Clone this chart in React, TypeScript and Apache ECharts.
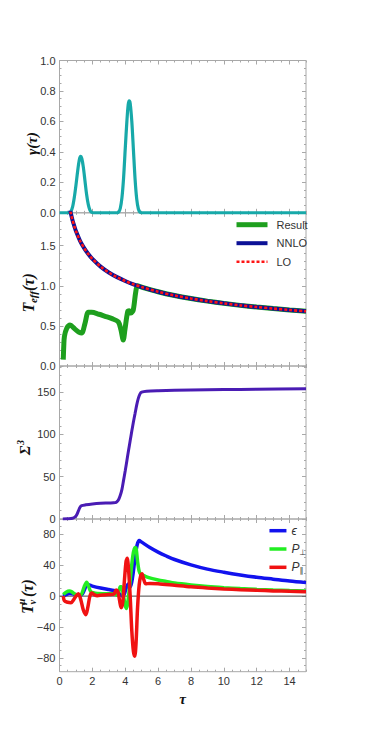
import React, { useEffect, useRef } from 'react';
import * as echarts from 'echarts';

// ---------- tick labels ----------
const tauTicks = [0, 2, 4, 6, 8, 10, 12, 14];
const gammaTicks = [0, 0.2, 0.4, 0.6, 0.8, 1.0];
const teffTicks = [0, 0.5, 1.0, 1.5];
const sigmaTicks = [0, 50, 100, 150];
const tmunuTicks = [-80, -40, 0, 40, 80];

// ---------- data (tau, value) ----------
const gamma: [number, number][] = [
  [0, 0], [0.6, 0], [0.7, 0.01], [0.8, 0.04], [0.9, 0.1], [1.0, 0.18], [1.1, 0.27], [1.2, 0.345],
  [1.28, 0.37], [1.36, 0.355], [1.45, 0.3], [1.55, 0.21], [1.65, 0.12], [1.75, 0.055], [1.85, 0.018],
  [1.95, 0.003], [2.05, 0], [3.5, 0], [3.6, 0.005], [3.7, 0.03], [3.8, 0.1], [3.9, 0.23], [4.0, 0.42],
  [4.1, 0.6], [4.18, 0.71], [4.24, 0.735], [4.3, 0.72], [4.4, 0.6], [4.5, 0.41], [4.6, 0.22], [4.7, 0.09],
  [4.8, 0.025], [4.9, 0.004], [5.0, 0], [15, 0],
];

const teffResult: [number, number][] = [
  [0.23, 0.08], [0.26, 0.25], [0.3, 0.37], [0.44, 0.47], [0.64, 0.51], [0.94, 0.46], [1.2, 0.42],
  [1.35, 0.41], [1.55, 0.53], [1.75, 0.67], [1.96, 0.67], [2.4, 0.645], [2.77, 0.62], [3.2, 0.59],
  [3.58, 0.55], [3.74, 0.45], [3.88, 0.325], [3.98, 0.45], [4.15, 0.68], [4.25, 0.69], [4.35, 0.66],
  [4.49, 0.7], [4.63, 0.91], [4.75, 1.0], [5, 0.984], [6, 0.926], [7, 0.879], [8, 0.841], [9, 0.809],
  [10, 0.781], [11, 0.756], [12, 0.735], [13, 0.716], [14, 0.698], [15, 0.682],
];

const teffNNLO: [number, number][] = [
  [0.6, 1.99], [0.7, 1.895], [0.8, 1.812], [0.9, 1.745], [1.0, 1.682], [1.25, 1.561], [1.5, 1.47],
  [1.75, 1.397], [2, 1.335], [2.5, 1.239], [3, 1.166], [3.5, 1.108], [4, 1.06], [4.5, 1.019],
  [5, 0.984], [6, 0.926], [7, 0.879], [8, 0.841], [9, 0.809], [10, 0.781], [11, 0.756], [12, 0.735],
  [13, 0.716], [14, 0.698], [15, 0.682],
];

const teffLO: [number, number][] = [
  [0.6, 1.99], [0.7, 1.895], [0.8, 1.812], [0.9, 1.745], [1.0, 1.682], [1.25, 1.561], [1.5, 1.47],
  [1.75, 1.397], [2, 1.335], [2.5, 1.239], [3, 1.166], [3.5, 1.108], [4, 1.06], [4.5, 1.019],
  [5, 0.984], [6, 0.926], [7, 0.879], [8, 0.841], [9, 0.809], [10, 0.781], [11, 0.756], [12, 0.735],
  [13, 0.716], [14, 0.698], [15, 0.682],
];

const sigma3: [number, number][] = [
  [0.2, 0], [0.5, 0.2], [0.8, 0.8], [0.95, 2.5], [1.05, 5], [1.15, 9.5], [1.25, 14], [1.35, 15.8],
  [1.6, 16.8], [2.0, 17.8], [2.5, 18.6], [3.0, 19], [3.4, 19.4], [3.5, 20.5], [3.6, 23], [3.7, 28],
  [3.8, 35], [3.9, 46], [4.0, 57], [4.1, 69], [4.2, 81], [4.3, 92.5], [4.4, 104], [4.5, 115], [4.6, 125],
  [4.7, 135], [4.8, 143], [4.9, 148], [5.0, 150], [5.3, 151.2], [6, 151.8], [8, 152.6], [10, 153.1],
  [12, 153.5], [15, 154],
];

const zeroLine: [number, number][] = [[0, 0], [15, 0]];

const epsilon: [number, number][] = [
  [0.23, 0], [0.4, 2], [0.6, 3.5], [0.8, 3], [1.0, 1.5], [1.2, 1], [1.4, 3], [1.55, 10], [1.68, 15.5],
  [1.8, 14.5], [2.0, 13], [2.5, 10.5], [3.0, 8.5], [3.4, 7], [3.55, 5], [3.7, 2], [3.85, 0], [3.95, 3],
  [4.05, 10], [4.15, 15], [4.22, 16], [4.32, 12], [4.45, 25], [4.6, 50], [4.72, 66], [4.85, 72],
  [5.0, 70], [5.5, 63], [6, 57], [6.5, 52], [7, 47.5], [8, 40.5], [9, 35], [10, 31], [11, 27.5],
  [12, 24.5], [13, 22], [14, 19.5], [15, 17.5],
];

const pPerp: [number, number][] = [
  [0.23, 2], [0.4, 5], [0.6, 6.5], [0.75, 5.5], [0.9, 3], [1.05, 1.5], [1.2, 1], [1.35, 3], [1.5, 12],
  [1.65, 18], [1.78, 12], [1.9, 6], [2.05, 4.5], [2.3, 3.5], [3.0, 3], [3.4, 3], [3.5, 1], [3.6, 5],
  [3.7, 12], [3.78, 12], [3.88, 2], [4.0, -12], [4.08, -16], [4.16, -8], [4.3, 20], [4.45, 50],
  [4.58, 63], [4.66, 62], [4.75, 45], [4.85, 32], [4.95, 28], [5.1, 27], [5.3, 25], [5.6, 23], [6, 21],
  [6.5, 19], [7, 17], [8, 14.5], [9, 12.5], [10, 11], [11, 9.8], [12, 8.8], [13, 8], [14, 7.3], [15, 6.7],
];

const pPar: [number, number][] = [
  [0.23, 0], [0.3, -6], [0.5, -8], [0.7, -8.5], [0.85, -5], [1.0, 0], [1.15, 3], [1.3, -5], [1.45, -18],
  [1.6, -24], [1.72, -15], [1.85, 0], [1.97, 4], [2.1, 2], [2.3, 0.5], [2.6, 1.5], [3.0, 2], [3.3, 2.5],
  [3.45, 8], [3.55, 6], [3.65, -5], [3.75, -15], [3.85, -8], [3.95, 20], [4.05, 45], [4.12, 49],
  [4.2, 35], [4.3, 0], [4.4, -45], [4.5, -72], [4.58, -78], [4.66, -60], [4.75, -15], [4.85, 15],
  [4.95, 27], [5.02, 29], [5.12, 22], [5.25, 16], [5.5, 16.5], [6, 16], [7, 14], [8, 12], [9, 10.5],
  [10, 9.3], [11, 8.3], [12, 7.5], [13, 6.8], [14, 6.2], [15, 5.7],
];

// ---------- layout / styling ----------
const FRAME = '#a8a8a8';
const LABEL = '#333';
const GRID_LEFT = 59.5;
const GRID_WIDTH = 246.5;

const minus = (v: number) => String(v).replace('-', '\u2212');

const panels = [
  { top: 60.5, height: 152.3, min: 0, max: 1, majors: gammaTicks, step: 0.05, fmt: (v: number) => v.toFixed(1) },
  { top: 212.8, height: 153.2, min: 0, max: 1.91, majors: teffTicks, step: 0.1, fmt: (v: number) => v.toFixed(1) },
  { top: 366, height: 153, min: 0, max: 181, majors: sigmaTicks, step: 10, fmt: (v: number) => String(v) },
  { top: 519, height: 152.7, min: -98, max: 100, majors: tmunuTicks, step: 10, fmt: minus },
];

function minorsOf(min: number, max: number, step: number, majors: number[]) {
  const out: number[] = [];
  for (let k = Math.ceil(min / step - 1e-9); k * step <= max + 1e-9; k++) {
    const v = Math.round(k * step * 1e6) / 1e6;
    if (!majors.some((m) => Math.abs(m - v) < 1e-6)) out.push(v);
  }
  return out;
}

function buildOption() {
  const xAxis: any[] = [];
  const yAxis: any[] = [];
  const grid: any[] = [];
  const tauMinors = minorsOf(0, 15, 0.5, tauTicks);

  panels.forEach((p, g) => {
    grid.push({
      left: GRID_LEFT, width: GRID_WIDTH, top: p.top, height: p.height,
      show: true, borderColor: FRAME, borderWidth: 1, backgroundColor: 'transparent',
    });
    const yMinors = minorsOf(p.min, p.max, p.step, p.majors);
    const mk = (dim: 'x' | 'y', pos: string, values: number[], len: number, labels: boolean) => ({
      type: 'value', gridIndex: g, position: pos,
      min: dim === 'x' ? 0 : p.min, max: dim === 'x' ? 15 : p.max,
      axisLine: { show: false, onZero: false },
      splitLine: { show: false },
      axisTick: { show: true, inside: true, length: len, lineStyle: { color: FRAME, width: 1 }, customValues: values },
      axisLabel: {
        show: labels, customValues: values, margin: 4, fontSize: 11, color: LABEL,
        fontFamily: 'Liberation Sans, Arial, sans-serif',
        formatter: dim === 'x' ? (v: number) => String(v) : p.fmt,
      },
    });
    xAxis.push(mk('x', 'bottom', tauTicks, 4, g === 3));
    xAxis.push(mk('x', 'bottom', tauMinors, 2, false));
    xAxis.push(mk('x', 'top', tauTicks, 4, false));
    xAxis.push(mk('x', 'top', tauMinors, 2, false));
    yAxis.push(mk('y', 'left', p.majors, 4, true));
    yAxis.push(mk('y', 'left', yMinors, 2, false));
    yAxis.push(mk('y', 'right', p.majors, 4, false));
    yAxis.push(mk('y', 'right', yMinors, 2, false));
  });

  const line = (g: number, name: string, data: [number, number][], color: string, width: number, dash?: number[]) => ({
    type: 'line', name, data, xAxisIndex: 4 * g, yAxisIndex: 4 * g,
    symbol: 'none', smooth: 0.3, color,
    lineStyle: dash ? { color, width, type: dash } : { color, width },
    emphasis: { disabled: true },
  });

  const series = [
    line(0, 'γ', gamma, '#17a9a9', 3.2),
    line(1, 'Result', teffResult, '#1e9f1e', 5),
    line(1, 'NNLO', teffNNLO, '#0c1196', 4),
    line(1, 'LO', teffLO, '#ff1414', 2.6, [3, 2]),
    line(2, 'Σ3', sigma3, '#4a1cb4', 3),
    { ...line(3, 'zero', zeroLine, '#444', 1), smooth: false },
    line(3, 'ϵ', epsilon, '#1212ee', 3.5),
    line(3, 'P⊥', pPerp, '#22ee22', 3.5),
    line(3, 'P∥', pPar, '#f01212', 3.5),
  ];

  const titleFont = (s: number) => `italic bold ${s}px "Liberation Serif", "DejaVu Serif", serif`;
  const rotTitle = (cx: number, cy: number, total: number, pieces: { t: string; x: number; y: number; s: number }[]) => ({
    type: 'group', x: cx, y: cy, rotation: Math.PI / 2, silent: true,
    children: pieces.map((pc) => ({
      type: 'text', x: pc.x - total / 2, y: pc.y,
      style: { text: pc.t, font: titleFont(pc.s), fill: '#111', textAlign: 'left', textVerticalAlign: 'middle' },
    })),
  });

  const graphic = [
    rotTitle(31.5, 144, 22, [{ t: 'γ(τ)', x: 0, y: 0, s: 15 }]),
    rotTitle(28.5, 293, 39, [
      { t: 'T', x: 0, y: 0, s: 16 },
      { t: 'eff', x: 9.4, y: 4, s: 11 },
      { t: '(τ)', x: 21.5, y: 0, s: 16 },
    ]),
    rotTitle(25, 447, 16, [
      { t: 'Σ', x: 0, y: 0, s: 15 },
      { t: '3', x: 10, y: -5, s: 10 },
    ]),
    rotTitle(27, 597, 34, [
      { t: 'T', x: 0, y: 0, s: 16 },
      { t: 'μ', x: 9.6, y: -6, s: 10.5 },
      { t: 'ν', x: 9.6, y: 5, s: 10.5 },
      { t: '(τ)', x: 17, y: 0, s: 16 },
    ]),
    {
      type: 'text', x: 182.7, y: 699, silent: true,
      style: { text: 'τ', font: titleFont(15), fill: '#111', textAlign: 'center', textVerticalAlign: 'middle' },
    },
  ];

  const legendText = { fontSize: 11, color: LABEL, fontFamily: 'Liberation Sans, Arial, sans-serif', lineHeight: 14 };

  const legend = [
    {
      data: ['Result', 'NNLO', 'LO'], orient: 'vertical', left: 234, top: 217.7, padding: 0,
      itemWidth: 31, itemHeight: 14, itemGap: 4.5, selectedMode: false,
      itemStyle: { opacity: 0 },
      lineStyle: { width: 'inherit', opacity: 1 }, textStyle: { ...legendText, padding: [0, 0, 0, 4] },
    },
    {
      data: ['ϵ', 'P⊥', 'P∥'], orient: 'vertical', left: 267.7, top: 523.7, padding: 0,
      itemWidth: 17, itemHeight: 14, itemGap: 4.3, selectedMode: false,
      itemStyle: { opacity: 0 },
      lineStyle: { width: 'inherit', opacity: 1 },
      formatter: (n: string) => (n === 'ϵ' ? '{i|ϵ}' : n === 'P⊥' ? '{i|P}{s|⊥}' : '{i|P}{s|∥}'),
      textStyle: {
        ...legendText,
        rich: {
          i: { fontStyle: 'italic', fontSize: 12, color: LABEL, fontFamily: 'Liberation Sans, Arial, sans-serif', lineHeight: 14 },
          s: { fontSize: 8, color: LABEL, verticalAlign: 'bottom', lineHeight: 10, fontFamily: 'DejaVu Sans, sans-serif' },
        },
      },
    },
  ];

  return {
    animation: false,
    backgroundColor: '#fff',
    grid, xAxis, yAxis, series, legend, graphic,
  };
}

export default function App() {
  const ref = useRef<HTMLDivElement>(null);
  useEffect(() => {
    if (!ref.current) return;
    const chart = echarts.init(ref.current, null, { renderer: 'svg' });
    chart.setOption(buildOption() as any);
    return () => chart.dispose();
  }, []);
  return <div ref={ref} style={{ position: 'absolute', left: 0, top: 0, width: 366, height: 733 }} />;
}
